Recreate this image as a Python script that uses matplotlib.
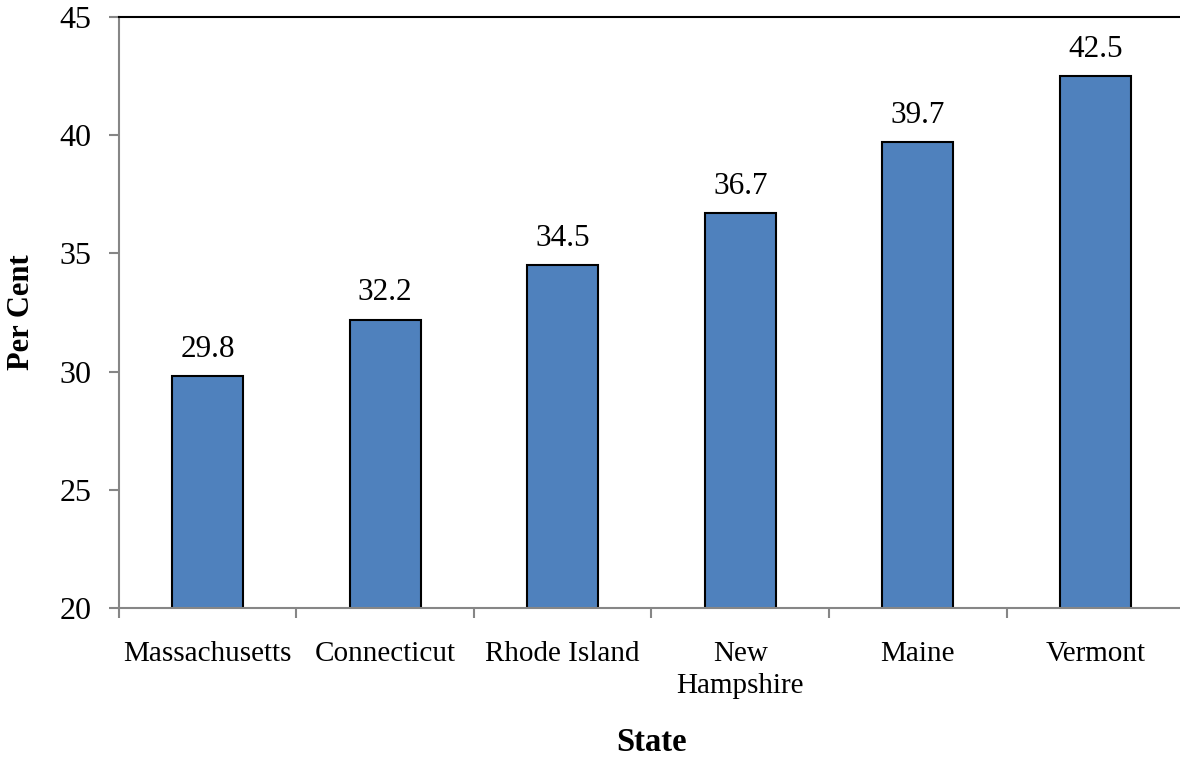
import numpy as np
import matplotlib.pyplot as plt

states = ['Massachusetts', 'Connecticut', 'Rhode Island', 'New\nHampshire', 'Maine', 'Vermont']
per_cent = [29.8, 32.2, 34.5, 36.7, 39.7, 42.5]

plt.rcParams['font.family'] = ['Liberation Serif', 'DejaVu Serif']

fig = plt.figure(figsize=(11.8, 7.57), dpi=100)
ax = fig.add_axes([0.1008, 0.1968, 0.9026, 0.7807])

x = np.arange(len(states))
ax.bar(x, per_cent, width=0.4, color='#4f81bd', edgecolor='black', linewidth=1.5, zorder=2)
for xi, v in zip(x, per_cent):
    ax.annotate(f'{v:.1f}', (xi, v), xytext=(0, 9), textcoords='offset points',
                ha='center', va='bottom', fontsize=22.5)

ax.set_xlim(-0.5, len(states) - 0.5)
ax.set_ylim(20, 45)
ax.set_yticks(np.arange(20, 46, 5))
ax.set_xticks(np.arange(-0.5, len(states), 1))
ax.set_xticklabels([])
ax.set_xticks(x, minor=True)
ax.set_xticklabels(states, minor=True, fontsize=21, linespacing=1.3)
ax.tick_params(axis='x', which='minor', length=0, pad=24)
ax.tick_params(axis='x', which='major', length=7, color='#868686', width=1.5)
ax.tick_params(axis='y', length=7, color='#868686', width=1.5, labelsize=23, pad=13)

for side in ['left', 'bottom']:
    ax.spines[side].set_color('#868686')
    ax.spines[side].set_linewidth(1.5)
ax.spines['top'].set_color('black')
ax.spines['top'].set_linewidth(1.5)
ax.spines['right'].set_visible(False)

ax.set_xlabel('State', fontsize=23.5, fontweight='bold', labelpad=20)
ax.set_ylabel('Per Cent', fontsize=22, fontweight='bold', labelpad=17)

fig.savefig('out.png', dpi=100)
